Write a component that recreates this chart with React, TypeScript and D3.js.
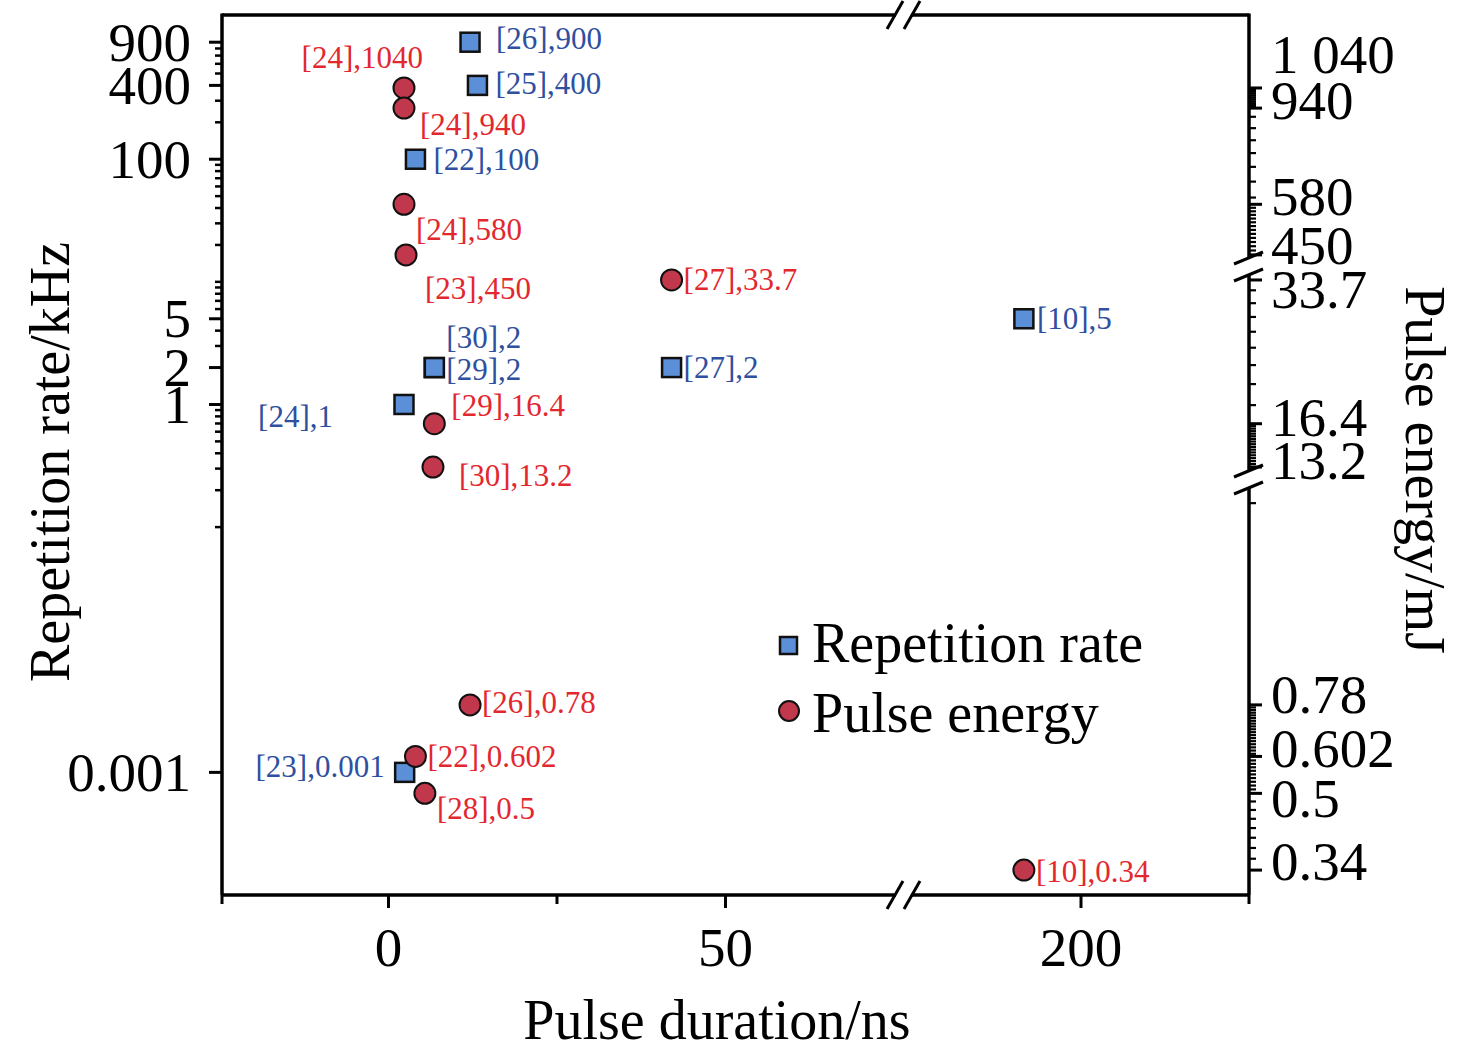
import * as d3 from "d3";

const W = 1476;
const H = 1057;

// repetition rate (kHz) against pulse duration (ns)
const repRefs = ["[26]", "[25]", "[22]", "[10]", "[30]", "[29]", "[27]", "[24]", "[23]"];
const repDuration = [12.1, 13.2, 4.0, 191.5, 6.8, 6.8, 42.0, 2.3, 2.4];
const repRate = [900, 400, 100, 5, 2, 2, 2, 1, 0.001];

// pulse energy (mJ) against pulse duration (ns)
const enRefs = ["[24]", "[24]", "[24]", "[23]", "[27]", "[29]", "[30]", "[26]", "[22]", "[28]", "[10]"];
const enDuration = [2.3, 2.3, 2.3, 2.6, 42.0, 6.8, 6.6, 12.1, 4.0, 5.4, 191.5];
const enValue = [1040, 940, 580, 450, 33.7, 16.4, 13.2, 0.78, 0.602, 0.5, 0.34];

// axis ticks
const xTicks = [0, 50, 200];
const xMinor = [25];
const rateTicks = [900, 400, 100, 5, 2, 1, 0.001];
const energyTicks = [1040, 940, 580, 450, 33.7, 16.4, 13.2, 0.78, 0.602, 0.5, 0.34];
const energyTickText = ["1 040", "940", "580", "450", "33.7", "16.4", "13.2", "0.78", "0.602", "0.5", "0.34"];

// label placement (offsets from the marker)
const repLabelDx = [26, 18, 18, 13, 12, 12, 12, -71, -20];
const repLabelDy = [-4, -2, 0, 0, -30, 2, 0, 12, -6];
const enLabelDx = [19, 16, 12, 19, 12, 17, 26, 12, 12, 12, 12];
const enLabelDy = [-30, 16, 25, 34, 0, -18, 8, -2, 0, 15, 1];
const energyTickShift = [-33, -8, -8, -9, 10, -6, -7, -10, -8, 5, -9];

const BLUE_FILL = "#5b8fd8";
const RED_FILL = "#c1374c";
const BLUE_TEXT = "#2f4fa0";
const RED_TEXT = "#e2282e";

const left = 222;
const right = 1249;
const top = 15;
const bottom = 895;

export default function App() {
  // broken x axis: two linear pieces
  const x1 = d3.scaleLinear().domain([-24.7, 75]).range([left, 894]);
  const x2 = d3.scaleLinear().domain([175, 225]).range([913, right]);
  const xPos = (v: number) => (v > 100 ? x2(v) : x1(v));

  // left: plain log axis
  const yL = d3.scaleLog().domain([1e-4, 1500]).range([bottom, top]);

  // right: three log pieces
  const eSegs = [
    d3.scaleLog().domain([443, 1500]).range([258, top]),
    d3.scaleLog().domain([12.94, 34.55]).range([471, 275]),
    d3.scaleLog().domain([0.3, 2.32]).range([bottom, 488]),
  ];
  const segOf = (v: number) => (v >= 443 ? 0 : v >= 12.94 ? 1 : 2);
  const yE = (v: number) => eSegs[segOf(v)](v);

  const rateMinor = yL
    .ticks()
    .filter((t) => t >= 0.1 && t <= 900 && !rateTicks.some((m) => Math.abs(m - t) < 1e-9));

  const energyMinor = [
    ...d3.range(950, 1040, 10),
    900, 850, 800, 750, 700, 650, 600,
    ...d3.range(460, 580, 10),
    32, 30, 28, 26, 24, 22, 20, 18,
    ...d3.range(13.4, 16.3, 0.2),
    2.15,
    ...d3.range(0.61, 0.775, 0.01),
    ...d3.range(0.51, 0.595, 0.01),
    ...d3.range(0.36, 0.495, 0.02),
  ];

  const slash = (cx: number, cy: number, key: string, horiz: boolean) =>
    horiz ? (
      <line key={key} x1={cx - 8} y1={cy + 14} x2={cx + 8} y2={cy - 14} stroke="#000" strokeWidth={3} />
    ) : (
      <line key={key} x1={cx - 15} y1={cy + 6} x2={cx + 14} y2={cy - 6} stroke="#000" strokeWidth={3} />
    );

  const sq = 19;

  return (
    <svg
      width={W}
      height={H}
      style={{ position: "absolute", left: 0, top: 0, background: "#fff" }}
      fontFamily="'Liberation Serif', 'Times New Roman', serif"
    >
      {/* frame: top and bottom with breaks */}
      <g stroke="#000" strokeWidth={3.5}>
        <line x1={left} x2={x1.range()[1] + 2} y1={top} y2={top} />
        <line x1={x2.range()[0] - 2} x2={right} y1={top} y2={top} />
        <line x1={left} x2={x1.range()[1] + 2} y1={bottom} y2={bottom} />
        <line x1={x2.range()[0] - 2} x2={right} y1={bottom} y2={bottom} />
        <line x1={left} x2={left} y1={top - 1.5} y2={bottom} />
        {eSegs.map((s, i) => (
          <line key={i} x1={right} x2={right} y1={s.range()[0]} y2={s.range()[1] - (i === 0 ? 1.5 : 0)} />
        ))}
      </g>
      {slash(895, top, "t1", true)}
      {slash(912, top, "t2", true)}
      {slash(895, bottom, "b1", true)}
      {slash(912, bottom, "b2", true)}
      {slash(right, 258, "r1", false)}
      {slash(right, 275, "r2", false)}
      {slash(right, 471, "r3", false)}
      {slash(right, 488, "r4", false)}

      {/* bottom axis */}
      <g stroke="#000" strokeWidth={3}>
        {xTicks.map((t) => (
          <line key={t} x1={xPos(t)} x2={xPos(t)} y1={bottom} y2={bottom + 13} />
        ))}
        {[...xMinor.map(xPos), left, right].map((x, i) => (
          <line key={"m" + i} x1={x} x2={x} y1={bottom} y2={bottom + 9} />
        ))}
      </g>
      {xTicks.map((t) => (
        <text key={t} x={xPos(t)} y={947} fontSize={55} textAnchor="middle" dominantBaseline="central">
          {t}
        </text>
      ))}
      <text x={717} y={1020} fontSize={56} textAnchor="middle" dominantBaseline="central">
        Pulse duration/ns
      </text>

      {/* left axis */}
      <g stroke="#000">
        {rateTicks.map((t) => (
          <line key={t} x1={left} x2={left - 13} y1={yL(t)} y2={yL(t)} strokeWidth={3} />
        ))}
        {rateMinor.map((t) => (
          <line key={"m" + t} x1={left} x2={left - 7} y1={yL(t)} y2={yL(t)} strokeWidth={2.5} />
        ))}
      </g>
      {rateTicks.map((t) => (
        <text key={t} x={191} y={yL(t)} fontSize={55} textAnchor="end" dominantBaseline="central">
          {String(t)}
        </text>
      ))}
      <text
        transform="translate(50,462) rotate(-90)"
        fontSize={56}
        textAnchor="middle"
        dominantBaseline="central"
      >
        Repetition rate/kHz
      </text>

      {/* right axis */}
      <g stroke="#000">
        {energyTicks.map((t) => (
          <line key={t} x1={right} x2={right + 13} y1={yE(t)} y2={yE(t)} strokeWidth={3} />
        ))}
        {energyMinor.map((t, i) => (
          <line key={"m" + i} x1={right} x2={right + 7} y1={yE(t)} y2={yE(t)} strokeWidth={2.2} />
        ))}
      </g>
      {energyTicks.map((t, i) => (
        <text
          key={t}
          x={1271}
          y={yE(t) + energyTickShift[i]}
          fontSize={55}
          textAnchor="start"
          dominantBaseline="central"
        >
          {energyTickText[i]}
        </text>
      ))}
      <text
        transform="translate(1425,470) rotate(90)"
        fontSize={56}
        textAnchor="middle"
        dominantBaseline="central"
      >
        Pulse energy/mJ
      </text>

      {/* repetition rate points */}
      {repRate.map((v, i) => (
        <rect
          key={"r" + i}
          x={xPos(repDuration[i]) - sq / 2}
          y={yL(v) - sq / 2}
          width={sq}
          height={sq}
          fill={BLUE_FILL}
          stroke="#111"
          strokeWidth={2.5}
        />
      ))}
      {/* pulse energy points */}
      {enValue.map((v, i) => (
        <circle
          key={"e" + i}
          cx={xPos(enDuration[i])}
          cy={yE(v)}
          r={10.5}
          fill={RED_FILL}
          stroke="#111"
          strokeWidth={2}
        />
      ))}

      {/* point labels */}
      {repRate.map((v, i) => (
        <text
          key={"rl" + i}
          x={xPos(repDuration[i]) + repLabelDx[i]}
          y={yL(v) + repLabelDy[i]}
          fontSize={31}
          fill={BLUE_TEXT}
          textAnchor={repLabelDx[i] < 0 ? "end" : "start"}
          dominantBaseline="central"
        >
          {repRefs[i] + "," + String(v)}
        </text>
      ))}
      {enValue.map((v, i) => (
        <text
          key={"el" + i}
          x={xPos(enDuration[i]) + enLabelDx[i]}
          y={yE(v) + enLabelDy[i]}
          fontSize={31}
          fill={RED_TEXT}
          textAnchor={i === 0 ? "end" : "start"}
          dominantBaseline="central"
        >
          {enRefs[i] + "," + String(v)}
        </text>
      ))}

      {/* legend */}
      <rect x={780} y={637} width={17} height={17} fill={BLUE_FILL} stroke="#111" strokeWidth={2.5} />
      <text x={812} y={643} fontSize={56} dominantBaseline="central">
        Repetition rate
      </text>
      <circle cx={789} cy={711} r={10} fill={RED_FILL} stroke="#111" strokeWidth={2} />
      <text x={812} y={713} fontSize={56} dominantBaseline="central">
        Pulse energy
      </text>
    </svg>
  );
}
